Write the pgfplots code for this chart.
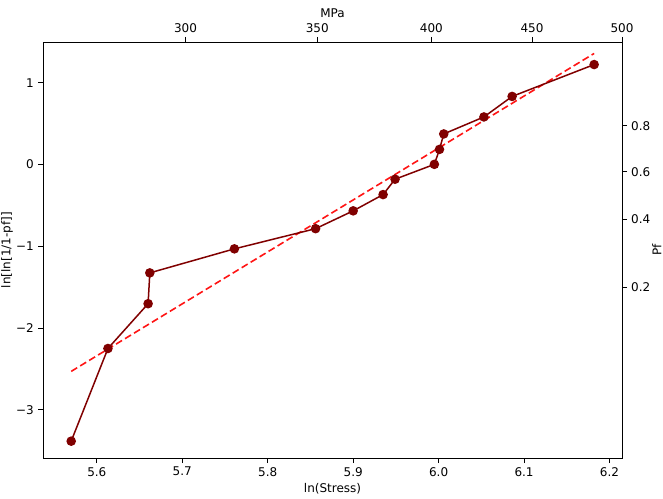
\documentclass[border=0pt]{standalone}
\usepackage{pgfplots}
\pgfplotsset{compat=1.18}
\usepackage{fontspec}
\setmainfont{DejaVu Sans}
\definecolor{dred}{RGB}{128,0,0}
\definecolor{fitred}{RGB}{255,20,20}
\begin{document}
\fontsize{12}{14}\selectfont
\begin{tikzpicture}[x=1pt,y=1pt]
\useasboundingbox (-43,-40) rectangle (620,458);
\pgfplotsset{
  every axis/.append style={
    scale only axis, width=579pt, height=416pt,
    xmin=5.537, xmax=6.2146, ymin=-3.59, ymax=1.50,
    at={(0,0)}, anchor=south west,
    tick align=outside, major tick length=5pt,
    every tick/.style={black, line width=0.8pt},
    axis line style={line width=0.8pt},
    /pgf/number format/assume math mode=true,
    tick label style={font=\fontsize{12}{14}\selectfont},
    label style={font=\fontsize{12}{14}\selectfont},
  }
}
\begin{axis}[
  xtick pos=bottom, ytick pos=left,
  xtick={5.6,5.7,5.8,5.9,6.0,6.1,6.2},
  xticklabels={5.6,5.7,5.8,5.9,6.0,6.1,6.2},
  ytick={-3,-2,-1,0,1},
  yticklabels={−3,−2,−1,0,1},
  xlabel={ln(Stress)}, ylabel={ln[ln[1/1-pf]]},
  xlabel style={at={(axis description cs:0.5,0)}, anchor=north, yshift=-21pt},
  ylabel style={at={(axis description cs:0,0.5)}, anchor=south, yshift=26pt},
]
\addplot[fitred, dashed, line width=1.6pt, dash pattern=on 7pt off 3.5pt] coordinates {
(5.570,-2.53) (6.182,1.36)
};
\addplot[dred, line width=1.5pt, mark=*, mark size=4pt, mark options={solid, fill=dred, draw=dred}] coordinates {
(5.570,-3.384)
(5.613,-2.250)
(5.660,-1.702)
(5.662,-1.325)
(5.761,-1.031)
(5.856,-0.784)
(5.900,-0.566)
(5.935,-0.367)
(5.949,-0.179)
(5.995,0.003)
(6.001,0.186)
(6.006,0.375)
(6.053,0.583)
(6.086,0.834)
(6.182,1.224)
};
\end{axis}
\begin{axis}[
  axis x line*=top, axis y line*=right,
  xtick={5.70378,5.85793,5.99146,6.10925,6.21461},
  xticklabels={300,350,400,450,500},
  ytick={-1.49994,-0.67173,-0.08742,0.47588},
  yticklabels={0.2,0.4,0.6,0.8},
  xlabel={MPa}, ylabel={Pf},
  xlabel style={at={(axis description cs:0.5,1)}, anchor=south, yshift=20pt},
  ylabel style={at={(axis description cs:1,0.5)}, anchor=north, yshift=-26pt},
]
\end{axis}
\end{tikzpicture}
\end{document}
